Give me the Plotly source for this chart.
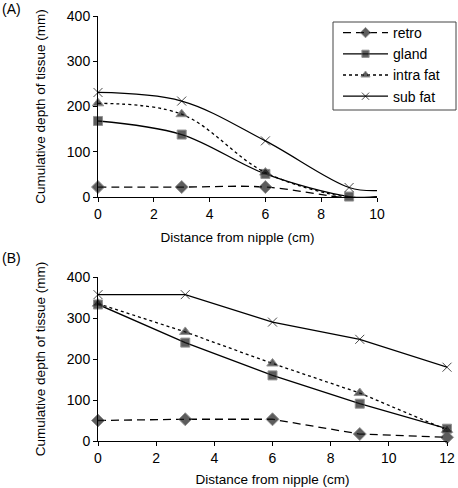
import plotly.graph_objects as go

# Panel A data
xa = [0, 3, 6, 9, 10]
a_retro = [22, 22, 22, -2, 0]
a_gland = [168, 138, 51, 1, 0]
a_intra = [207, 183, 54, -1, 0]
a_sub = [231, 212, 124, 21, 14]

# Panel B data
xb = [0, 3, 6, 9, 12]
b_retro = [50, 53, 53, 17, 9]
b_gland = [333, 240, 160, 91, 30]
b_intra = [335, 266, 189, 117, 27]
b_sub = [357, 357, 290, 248, 180]

names = ["retro", "gland", "intra fat", "sub fat"]
dashes = ["8px,5px", "solid", "3px,3px", "solid"]
symbols = ["diamond", "square", "triangle-up", "x-thin-open"]
widths = [1.3, 1.3, 1.3, 1.2]
msizes = [10, 9, 10, 9]

FAM = "Liberation Sans, Arial, sans-serif"
tickfont = dict(family=FAM, size=14, color="black")
titlefont = dict(family=FAM, size=13.5, color="black")

fig = go.Figure()

def marker(i, n, hide_last):
    sizes = [msizes[i]] * n
    if hide_last:
        sizes[-1] = 0
    if symbols[i] == "x-thin-open":
        return dict(symbol=symbols[i], size=sizes, color="black", line=dict(color="black", width=1))
    return dict(symbol=symbols[i], size=sizes, color="#1a1a1a", line=dict(color="#666", width=1))

for i, ys in enumerate([a_retro, a_gland, a_intra, a_sub]):
    fig.add_trace(go.Scatter(x=xa, y=ys, mode="lines+markers", name=names[i],
                             line=dict(color="black", width=widths[i], dash=dashes[i], shape="spline"),
                             marker=marker(i, len(xa), True), cliponaxis=False,
                             xaxis="x", yaxis="y", showlegend=True))
for i, ys in enumerate([b_retro, b_gland, b_intra, b_sub]):
    fig.add_trace(go.Scatter(x=xb, y=ys, mode="lines+markers", name=names[i],
                             line=dict(color="black", width=widths[i], dash=dashes[i]),
                             marker=marker(i, len(xb), False), cliponaxis=False,
                             xaxis="x2", yaxis="y2", showlegend=False))

W, H = 458, 488
def px(x): return x / W
def py(y): return 1 - y / H

axis_common = dict(showline=True, linecolor="black", linewidth=1, ticks="outside",
                   ticklen=4, tickcolor="black", showgrid=False, zeroline=False,
                   tickfont=tickfont, title_font=titlefont, automargin=False)

fig.update_layout(
    width=W, height=H, margin=dict(l=0, r=0, t=0, b=0),
    paper_bgcolor="white", plot_bgcolor="white", font=tickfont,
    xaxis=dict(domain=[px(98), px(377)], range=[0, 10], dtick=2, anchor="y",
               title=dict(text="Distance from nipple (cm)", standoff=11), **axis_common),
    yaxis=dict(domain=[py(197), py(16)], range=[0, 400], dtick=100, anchor="x",
               title=dict(text="Cumulative depth of tissue (mm)", standoff=18), **axis_common),
    xaxis2=dict(domain=[px(98), px(447)], range=[0, 12], dtick=2, anchor="y2",
                title=dict(text="Distance from nipple (cm)", standoff=9), **axis_common),
    yaxis2=dict(domain=[py(441), py(277)], range=[0, 400], dtick=100, anchor="x2",
                title=dict(text="Cumulative depth of tissue (mm)", standoff=18), **axis_common),
    legend=dict(x=px(338), y=py(17), xanchor="left", yanchor="top",
                borderwidth=0, bgcolor="rgba(0,0,0,0)",
                font=dict(family=FAM, size=14, color="black"),
                itemwidth=45, tracegroupgap=0),
    shapes=[dict(type="rect", xref="paper", yref="paper",
                 x0=px(333), x1=px(456), y0=py(110), y1=py(22),
                 line=dict(color="#444", width=1), fillcolor="rgba(0,0,0,0)", layer="below")],
    annotations=[
        dict(text="(A)", x=0, y=1, xref="paper", yref="paper", xanchor="left", yanchor="top",
             showarrow=False, font=tickfont, yshift=1),
        dict(text="(B)", x=0, y=py(248), xref="paper", yref="paper", xanchor="left", yanchor="top",
             showarrow=False, font=tickfont),
    ],
)

fig.write_html("out.html", config={"displayModeBar": False},
               post_script="document.body.style.margin='0px';")
